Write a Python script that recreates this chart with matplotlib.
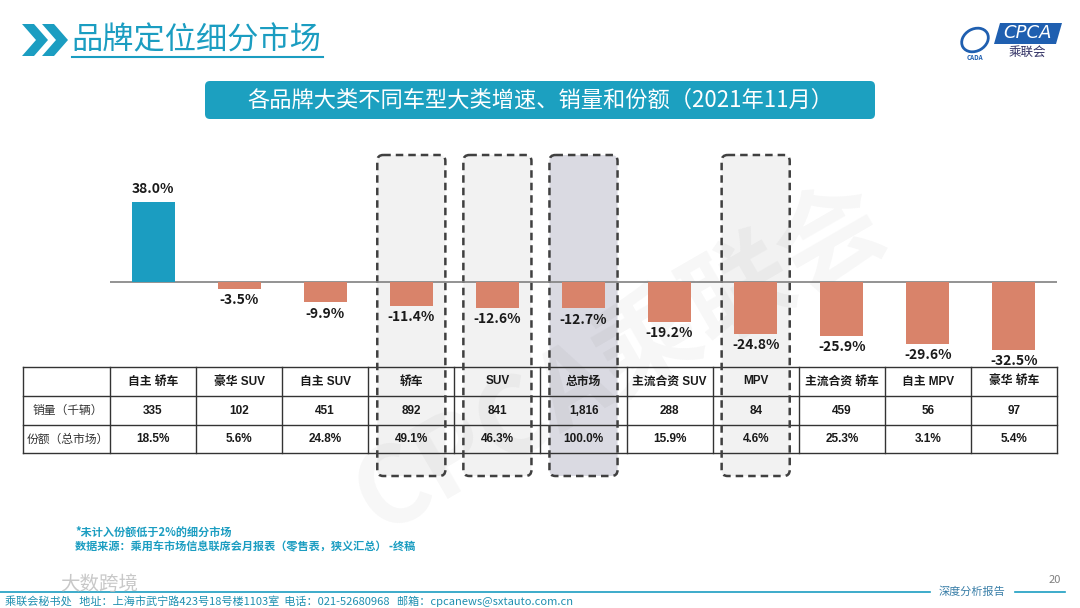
import matplotlib.pyplot as plt
from matplotlib.patches import FancyBboxPatch, Polygon, Ellipse

plt.rcParams['font.family'] = ['Noto Sans CJK SC', 'DejaVu Sans']

# 数据
categories = ['自主 轿车', '豪华 SUV', '自主 SUV', '轿车', 'SUV', '总市场',
              '主流合资 SUV', 'MPV', '主流合资 轿车', '自主 MPV', '豪华 轿车']
growth = [38.0, -3.5, -9.9, -11.4, -12.6, -12.7, -19.2, -24.8, -25.9, -29.6, -32.5]
sales = ['335', '102', '451', '892', '841', '1,816', '288', '84', '459', '56', '97']
share = ['18.5%', '5.6%', '24.8%', '49.1%', '46.3%', '100.0%', '15.9%', '4.6%',
         '25.3%', '3.1%', '5.4%']
row_labels = ['销量（千辆）', '份额（总市场）']
boxed = ['轿车', 'SUV', '总市场', 'MPV']   # 虚线框
highlight = '总市场'

teal = '#1B9DC1'
orange = '#D9836A'

fig = plt.figure(figsize=(10.8, 6.08), dpi=100)

# 整张图的覆盖层，像素坐标
ov = fig.add_axes([0, 0, 1, 1], zorder=0)
ov.set_xlim(0, 1080)
ov.set_ylim(608, 0)
ov.axis('off')

# 表格 / 柱状图的列位置
tx0, tx1, tx_end = 23, 110, 1057
colw = (tx_end - tx1) / len(categories)
ty = [367, 396, 425, 453]

# 水印
ov.text(620, 360, 'CPCA乘联会', fontsize=76, fontweight='bold', color='#000000',
        alpha=0.035, rotation=30, ha='center', va='center')

# 虚线框（背景）
for i, c in enumerate(categories):
    if c in boxed:
        left = tx1 + i * colw + 9
        fc = '#DADAE2' if c == highlight else '#F2F2F2'
        ov.add_patch(FancyBboxPatch((left, 155), colw - 18, 321,
                                    boxstyle='round,pad=0,rounding_size=6',
                                    fc=fc, ec='none', zorder=1))
        ov.add_patch(FancyBboxPatch((left, 155), colw - 18, 321,
                                    boxstyle='round,pad=0,rounding_size=6',
                                    fc='none', ec='#404040', lw=1.8,
                                    linestyle=(0, (3, 2)), zorder=5))

# 表格线
for y in ty:
    ov.plot([tx0, tx_end], [y, y], color='#333333', lw=1, zorder=3)
ov.plot([tx0, tx0], [ty[0], ty[-1]], color='#333333', lw=1, zorder=3)
for i in range(len(categories) + 1):
    x = tx1 + i * colw
    ov.plot([x, x], [ty[0], ty[-1]], color='#333333', lw=1, zorder=3)

tfont = ['Liberation Sans', 'Noto Sans CJK SC']
for i, c in enumerate(categories):
    cx = tx1 + (i + 0.5) * colw
    ov.text(cx, (ty[0] + ty[1]) / 2, c, ha='center', va='center', fontsize=8.5,
            fontweight='bold', family=tfont, color='#1a1a1a', zorder=4)
    ov.text(cx, (ty[1] + ty[2]) / 2, sales[i], ha='center', va='center', fontsize=8.5,
            fontweight='bold', family=tfont, color='#1a1a1a', zorder=4)
    ov.text(cx, (ty[2] + ty[3]) / 2, share[i], ha='center', va='center', fontsize=8.5,
            fontweight='bold', family=tfont, color='#1a1a1a', zorder=4)
for r, lab in enumerate(row_labels):
    ov.text((tx0 + tx1) / 2 + 1, (ty[r + 1] + ty[r + 2]) / 2, lab, ha='center',
            va='center', fontsize=8.5, color='#333333', zorder=4)

# 柱状图
top_px, bot_px, base_px, px_per = 150, 365, 281.7, 2.1
ax = fig.add_axes([tx1 / 1080, 1 - bot_px / 608, (tx_end - tx1) / 1080,
                   (bot_px - top_px) / 608], zorder=2)
ax.patch.set_alpha(0)
colors = [teal if v > 0 else orange for v in growth]
x = range(len(categories))
ax.bar(x, growth, width=0.5, color=colors, zorder=3)
ax.axhline(0, color='#808080', lw=1.2, zorder=2)
for i, v in enumerate(growth):
    if v >= 0:
        ax.annotate(f'{v:.1f}%', (i, v), xytext=(0, 4), textcoords='offset points',
                    ha='center', va='bottom', fontsize=10, fontweight='bold',
                    color='#1a1a1a')
    else:
        ax.annotate(f'{v:.1f}%', (i, v), xytext=(0, -3), textcoords='offset points',
                    ha='center', va='top', fontsize=10, fontweight='bold',
                    color='#1a1a1a')
ax.set_xlim(-0.5, len(categories) - 0.5)
ax.set_ylim(-(bot_px - base_px) / px_per, (base_px - top_px) / px_per)
ax.axis('off')

# 标题区
for dx in (0, 20):
    ov.add_patch(Polygon([(22 + dx, 24), (34 + dx, 24), (48 + dx, 40), (34 + dx, 56),
                          (22 + dx, 56), (36 + dx, 40)], closed=True, fc=teal, ec='none'))
ov.text(71, 40, '品牌定位细分市场', fontsize=22.5, color=teal, va='center', ha='left')
ov.plot([72, 323], [57, 57], color=teal, lw=1.5)

ov.add_patch(FancyBboxPatch((205, 81), 670, 38, boxstyle='round,pad=0,rounding_size=5',
                            fc='#1CA0C0', ec='none'))
ov.text(540, 100, '各品牌大类不同车型大类增速、销量和份额（2021年11月）', fontsize=16,
        color='white', ha='center', va='center')

# 标志
ov.add_patch(Polygon([(1000, 23), (1062, 23), (1056, 44), (994, 44)], closed=True,
                     fc='#1F5FB0', ec='none'))
ov.text(1027, 33.5, 'CPCA', fontsize=13, color='white', style='italic',
        ha='center', va='center', family='DejaVu Sans')
ov.text(1027, 52, '乘联会', fontsize=9, color='#333366', ha='center', va='center')
ov.add_patch(Ellipse((975, 40), 28, 22, angle=-30, fc='none', ec='#1F5FB0', lw=2))
ov.text(975, 57, 'CADA', fontsize=4.5, color='#1F5FB0', style='italic',
        ha='center', va='center', fontweight='bold')

# 注释
ov.text(75, 532, '*未计入份额低于2%的细分市场', fontsize=8, fontweight='bold',
        color=teal, va='center')
ov.text(75, 547, '数据来源：乘用车市场信息联席会月报表（零售表，狭义汇总） -终稿',
        fontsize=8, fontweight='bold', color=teal, va='center')

# 页脚
ov.plot([0, 930], [592, 592], color=teal, lw=1.2)
ov.plot([1015, 1065], [592, 592], color=teal, lw=1.2)
ov.text(972, 592, '深度分析报告', fontsize=8, color='#3a7fa8', ha='center', va='center')
ov.text(1055, 580, '20', fontsize=8, color='#808080', ha='center', va='center')
ov.text(5, 601, '乘联会秘书处   地址：上海市武宁路423号18号楼1103室  电话：021-52680968   '
        '邮箱：cpcanews@sxtauto.com.cn', fontsize=8, color='#1d8fb0', va='center')
ov.text(60, 584, '大数跨境', fontsize=14, color='#bbbbbb', alpha=0.8, va='center')

fig.savefig('out.png', dpi=100)
